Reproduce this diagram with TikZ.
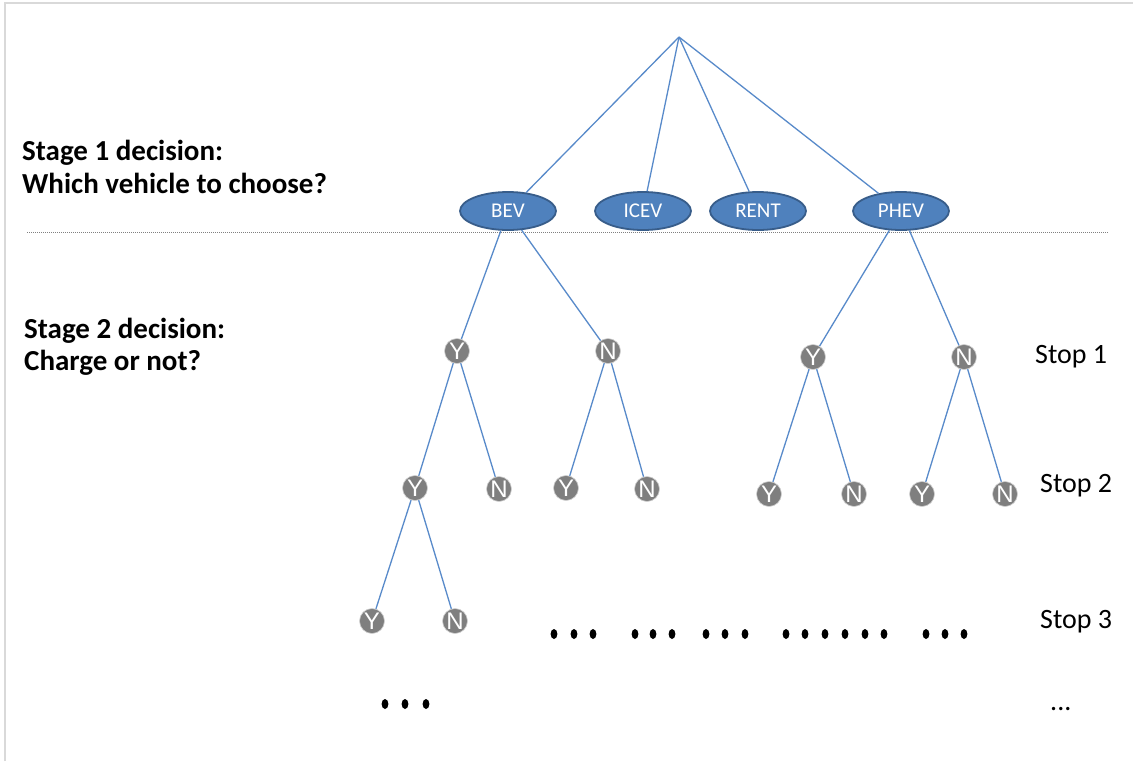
\documentclass[tikz,border=0pt]{standalone}
\usepackage{fontspec}
\setmainfont{Carlito}
\newfontfamily\yn{Liberation Sans}
\usetikzlibrary{shapes.geometric}
\definecolor{lineblue}{RGB}{88,138,202}
\definecolor{fillblue}{RGB}{79,129,189}
\definecolor{edgeblue}{RGB}{56,93,138}
\definecolor{nodegray}{RGB}{127,127,127}
\definecolor{framegray}{RGB}{217,217,217}
\tikzset{
  veh/.style={ellipse, draw=edgeblue, line width=1.8pt, fill=fillblue, minimum width=96pt, minimum height=38pt, inner sep=0pt, text=white, font=\fontsize{21}{21}\selectfont},
  yn/.style={circle, draw=gray!35, line width=0.6pt, fill=nodegray, minimum size=25pt, inner sep=0pt, text=white, font=\yn\fontsize{24}{24}\selectfont},
  edge/.style={draw=lineblue, line width=1.3pt},
  lbl/.style={anchor=base west, inner sep=0pt, font=\fontsize{29}{29}\selectfont\bfseries},
  stop/.style={anchor=base west, inner sep=0pt, font=\fontsize{28}{28}\selectfont},
}
\begin{document}
\begin{tikzpicture}[x=1pt,y=-1pt]
\useasboundingbox (0,0) rectangle (1133,761);
\fill[white] (0,0) rectangle (1133,761);
% frame
\draw[framegray, line width=2pt] (5,761) -- (5,3) -- (1133,3);
% separator
\draw[gray, line width=0.8pt, dash pattern=on 1pt off 1pt] (27,232) -- (1108,232);
% root and vehicles
\coordinate (root) at (679,37);
\node[veh] (bev) at (508,211) {BEV};
\node[veh] (icev) at (643,211) {ICEV};
\node[veh] (rent) at (758,211) {RENT};
\node[veh] (phev) at (901,211) {PHEV};
% stop 1
\node[yn] (y1a) at (457,351) {Y};
\node[yn] (n1a) at (608,351) {N};
\node[yn] (y1b) at (813,357) {Y};
\node[yn] (n1b) at (964,357) {N};
% stop 2
\node[yn] (y2a) at (415,488) {Y};
\node[yn] (n2a) at (499,489) {N};
\node[yn] (y2b) at (566,488) {Y};
\node[yn] (n2b) at (647,489) {N};
\node[yn] (y2c) at (769,494) {Y};
\node[yn] (n2c) at (854,494) {N};
\node[yn] (y2d) at (922,494) {Y};
\node[yn] (n2d) at (1005,494) {N};
% stop 3
\node[yn] (y3a) at (372,621) {Y};
\node[yn] (n3a) at (455,621) {N};
% edges
\foreach \v in {bev,icev,rent,phev} \draw[edge] (root) -- (\v);
\draw[edge] (bev) -- (y1a);
\draw[edge] (bev) -- (n1a);
\draw[edge] (phev) -- (y1b);
\draw[edge] (phev) -- (n1b);
\draw[edge] (y1a) -- (y2a);
\draw[edge] (y1a) -- (n2a);
\draw[edge] (n1a) -- (y2b);
\draw[edge] (n1a) -- (n2b);
\draw[edge] (y1b) -- (y2c);
\draw[edge] (y1b) -- (n2c);
\draw[edge] (n1b) -- (y2d);
\draw[edge] (n1b) -- (n2d);
\draw[edge] (y2a) -- (y3a);
\draw[edge] (y2a) -- (n3a);
% dots
\foreach \x in {554,574,593, 635,653,672, 706,725,745, 786,805,825,845,865,884, 926,945,964}
  \fill[black] (\x,634) ellipse [x radius=3.4pt, y radius=5pt];
\foreach \x in {385,405,426}
  \fill[black] (\x,704) ellipse [x radius=3.4pt, y radius=5pt];
% labels
\node[lbl] (s1a) at (22,160) {Stage 1 decision:};
\node[lbl] (s1b) at (22,193) {Which vehicle to choose?};
\node[lbl] (s2a) at (24,338) {Stage 2 decision:};
\node[lbl] (s2b) at (24,370) {Charge or not?};
\node[stop] (st1) at (1035,363) {Stop 1};
\node[stop] (st2) at (1040,492) {Stop 2};
\node[stop] (st3) at (1040,628) {Stop 3};
\node[stop] (st4) at (1050,710) {...};
\end{tikzpicture}
\end{document}
